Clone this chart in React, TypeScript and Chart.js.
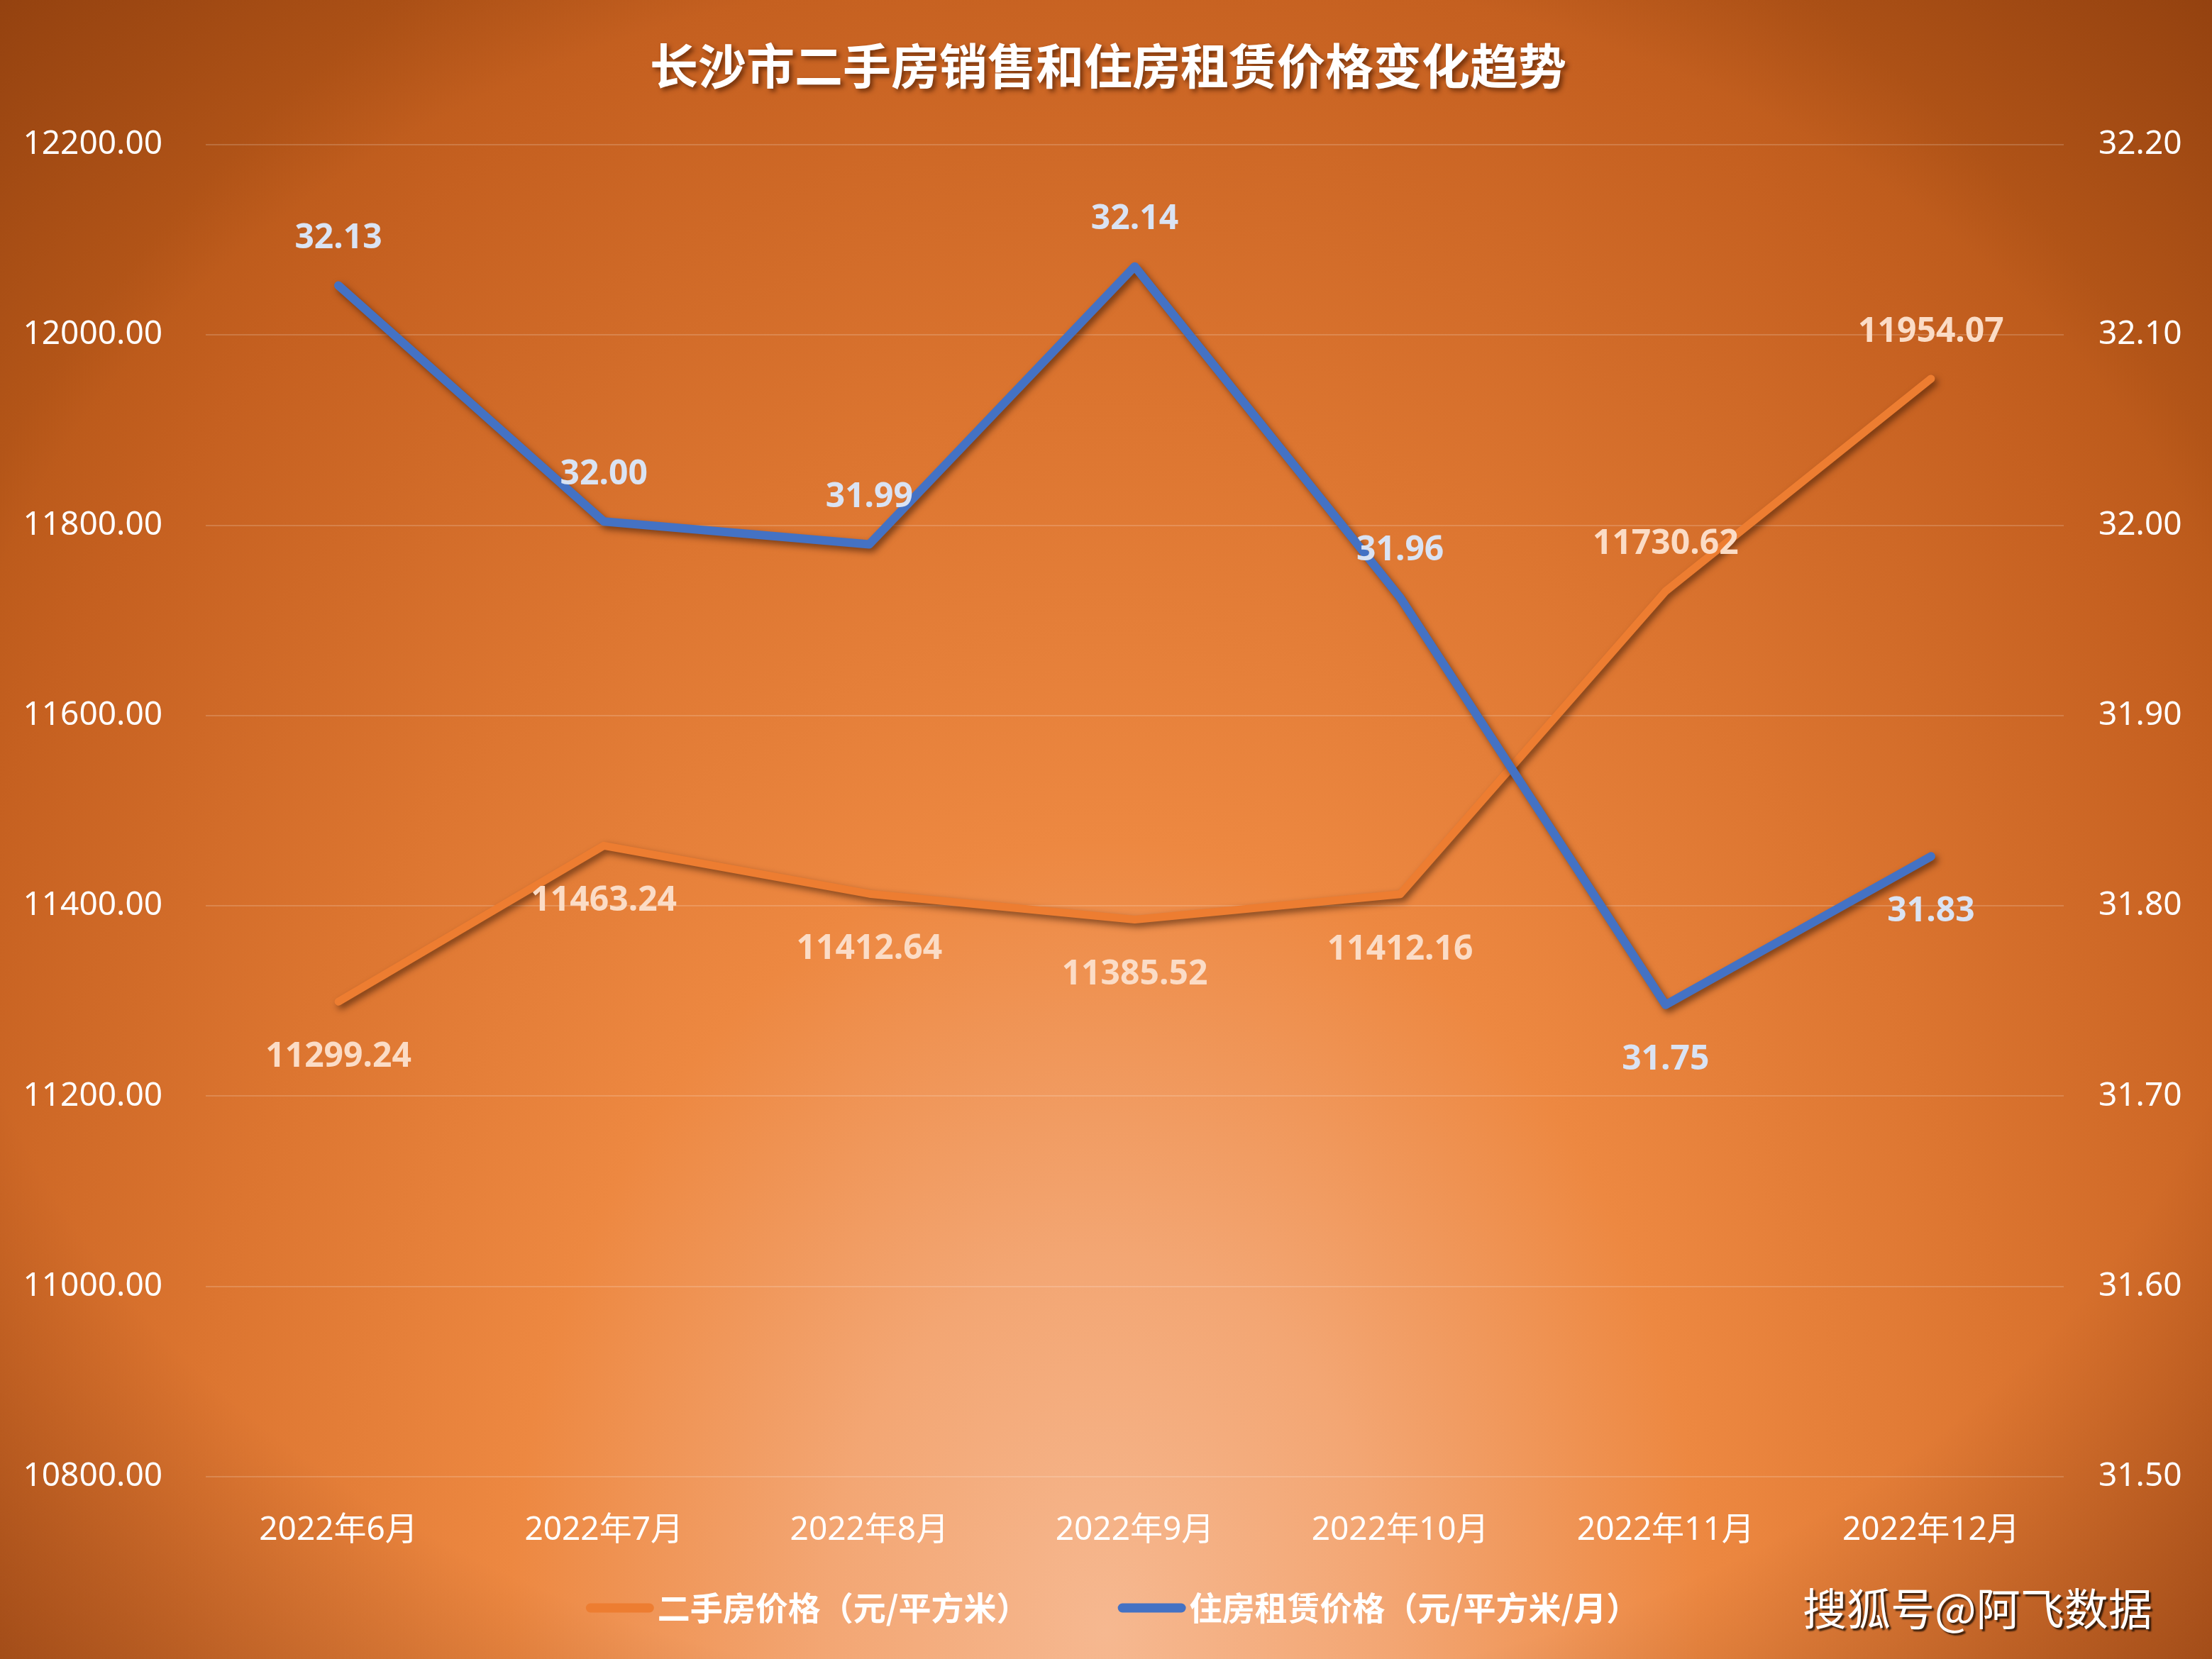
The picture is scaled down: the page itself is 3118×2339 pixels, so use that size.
import React, { useEffect, useRef } from 'react';
import { Chart, registerables } from 'chart.js';

Chart.register(...registerables);

const W = 3118;
const H = 2339;

// ---- data ----
const categories = ['2022年6月', '2022年7月', '2022年8月', '2022年9月', '2022年10月', '2022年11月', '2022年12月'];
const salePrice = [11299.24, 11463.24, 11412.64, 11385.52, 11412.16, 11730.62, 11954.07];
const rentPrice = [32.126, 32.002, 31.99, 32.136, 31.962, 31.748, 31.826];
const saleLabelSide = ['below', 'below', 'below', 'below', 'below', 'above', 'above'];
const rentLabelSide = ['above', 'above', 'above', 'above', 'above', 'below', 'below'];
const leftAxis = { min: 10800, max: 12200, step: 200 };
const rightAxis = { min: 31.5, max: 32.2, step: 0.1 };
const seriesNames = ['二手房价格（元/平方米）', '住房租赁价格（元/平方米/月）'];
const titleText = '长沙市二手房销售和住房租赁价格变化趋势';
const watermarkText = '搜狐号@阿飞数据';

// ---- style ----
const SALE_COLOR = '#ED7D31';
const RENT_COLOR = '#4472C4';
const SALE_LABEL = '#fbdcc6';
const RENT_LABEL = '#dae3f3';
const LATIN = '"Noto Sans", "Noto Sans CJK SC", sans-serif';
const CJK = '"Noto Sans CJK SC", "Noto Sans", sans-serif';

const backgroundPlugin = {
  id: 'bg',
  beforeDraw(chart: any) {
    const ctx = chart.ctx;
    // main radial gradient from bottom centre
    ctx.save();
    const cx = 1559;
    const cy = 2300;
    const rx = 2000;
    const sy = 2650 / rx;
    ctx.translate(cx, cy);
    ctx.scale(1, sy);
    const g = ctx.createRadialGradient(0, 0, 0, 0, 0, rx);
    g.addColorStop(0, '#f6b890');
    g.addColorStop(0.2, '#f3a673');
    g.addColorStop(0.42, '#ed8841');
    g.addColorStop(0.65, '#dc7530');
    g.addColorStop(0.9, '#c56020');
    g.addColorStop(1, '#b85819');
    ctx.fillStyle = g;
    ctx.fillRect(-cx - 5, -cy / sy - 5, W + 10, H / sy + 10);
    ctx.restore();

    // corner vignette
    ctx.save();
    const vx = W / 2;
    const vy = H / 2;
    const vr = vx * 1.414;
    const vs = (vy * 1.414) / vr;
    ctx.translate(vx, vy);
    ctx.scale(1, vs);
    const v = ctx.createRadialGradient(0, 0, 0, 0, 0, vr);
    v.addColorStop(0, 'rgba(90,30,0,0)');
    v.addColorStop(0.74, 'rgba(90,30,0,0)');
    v.addColorStop(1, 'rgba(90,30,0,0.38)');
    ctx.fillStyle = v;
    ctx.fillRect(-vx - 5, -vy / vs - 5, W + 10, H / vs + 10);
    ctx.restore();
  },
};

const shadowPlugin = {
  id: 'lineShadow',
  beforeDatasetDraw(chart: any) {
    const ctx = chart.ctx;
    ctx.save();
    ctx.shadowColor = 'rgba(40,15,0,0.55)';
    ctx.shadowBlur = 10;
    ctx.shadowOffsetX = 4;
    ctx.shadowOffsetY = 5;
  },
  afterDatasetDraw(chart: any) {
    chart.ctx.restore();
  },
};

const labelsPlugin = {
  id: 'valueLabels',
  afterDatasetsDraw(chart: any) {
    const ctx = chart.ctx;
    ctx.save();
    ctx.font = `700 48px ${LATIN}`;
    ctx.textAlign = 'center';
    ctx.textBaseline = 'middle';
    chart.data.datasets.forEach((ds: any, i: number) => {
      const meta = chart.getDatasetMeta(i);
      const sides = i === 0 ? saleLabelSide : rentLabelSide;
      ctx.fillStyle = i === 0 ? SALE_LABEL : RENT_LABEL;
      meta.data.forEach((pt: any, j: number) => {
        const dy = sides[j] === 'above' ? -66 : 78;
        ctx.fillText(Number(ds.data[j]).toFixed(2), pt.x, pt.y + dy);
      });
    });
    ctx.restore();
  },
};

const decorPlugin = {
  id: 'decor',
  afterDraw(chart: any) {
    const ctx = chart.ctx;
    // title
    ctx.save();
    ctx.font = `700 68px ${CJK}`;
    ctx.textAlign = 'center';
    ctx.textBaseline = 'middle';
    ctx.shadowColor = 'rgba(70,25,0,0.65)';
    ctx.shadowBlur = 6;
    ctx.shadowOffsetX = 4;
    ctx.shadowOffsetY = 4;
    ctx.fillStyle = '#ffffff';
    ctx.fillText(titleText, 1562, 93);
    ctx.restore();

    // legend
    ctx.save();
    ctx.font = `700 46px ${CJK}`;
    ctx.textBaseline = 'middle';
    const sw = 96;
    const gap = 5;
    const itemGap = 125;
    const t1 = ctx.measureText(seriesNames[0]).width;
    const t2 = ctx.measureText(seriesNames[1]).width;
    const total = sw + gap + t1 + itemGap + sw + gap + t2;
    let x = 1568 - total / 2;
    const ly = 2267;
    const drawItem = (color: string, text: string, tw: number) => {
      ctx.strokeStyle = color;
      ctx.lineWidth = 13;
      ctx.lineCap = 'round';
      ctx.beginPath();
      ctx.moveTo(x + 6.5, ly);
      ctx.lineTo(x + sw - 6.5, ly);
      ctx.stroke();
      ctx.fillStyle = '#ffffff';
      ctx.textAlign = 'left';
      ctx.fillText(text, x + sw + gap, ly);
      x += sw + gap + tw + itemGap;
    };
    drawItem(SALE_COLOR, seriesNames[0], t1);
    drawItem(RENT_COLOR, seriesNames[1], t2);
    ctx.restore();

    // watermark
    ctx.save();
    ctx.font = `400 62px ${CJK}`;
    ctx.textAlign = 'left';
    ctx.textBaseline = 'middle';
    ctx.shadowColor = 'rgba(0,0,0,0.7)';
    ctx.shadowBlur = 2;
    ctx.shadowOffsetX = 3;
    ctx.shadowOffsetY = 3;
    ctx.fillStyle = '#ffffff';
    ctx.fillText(watermarkText, 2541, 2268);
    ctx.restore();
  },
};

export default function App() {
  const canvasRef = useRef<HTMLCanvasElement | null>(null);

  useEffect(() => {
    document.body.style.margin = '0';
    const canvas = canvasRef.current;
    if (!canvas) return;
    Chart.defaults.font.family = LATIN;

    const chart = new Chart(canvas, {
      type: 'line',
      data: {
        labels: categories,
        datasets: [
          {
            label: seriesNames[0],
            data: salePrice,
            yAxisID: 'y',
            borderColor: SALE_COLOR,
            backgroundColor: SALE_COLOR,
            borderWidth: 11,
            borderCapStyle: 'round',
            borderJoinStyle: 'round',
            pointRadius: 0,
            tension: 0,
            order: 1,
          },
          {
            label: seriesNames[1],
            data: rentPrice,
            yAxisID: 'y1',
            borderColor: RENT_COLOR,
            backgroundColor: RENT_COLOR,
            borderWidth: 12,
            borderCapStyle: 'round',
            borderJoinStyle: 'round',
            pointRadius: 0,
            tension: 0,
            order: 0,
          },
        ],
      },
      options: {
        responsive: false,
        animation: false,
        devicePixelRatio: 1,
        layout: { padding: { top: 204, left: 0, right: 0, bottom: 0 } },
        plugins: {
          legend: { display: false },
          title: { display: false },
          tooltip: { enabled: false },
        },
        scales: {
          x: {
            type: 'category',
            offset: true,
            grid: { display: false, drawTicks: false },
            border: { display: false },
            ticks: {
              color: '#ffffff',
              font: { size: 46, family: LATIN },
              padding: 48,
              maxRotation: 0,
              autoSkip: false,
            },
            afterFit: (s: any) => {
              s.height = H - 2082;
            },
          },
          y: {
            type: 'linear',
            position: 'left',
            min: leftAxis.min,
            max: leftAxis.max,
            grid: { color: 'rgba(255,255,255,0.17)', lineWidth: 2, drawTicks: false },
            border: { display: false },
            ticks: {
              stepSize: leftAxis.step,
              color: '#ffffff',
              font: { size: 46, family: LATIN },
              padding: 61,
              callback: (v: any) => Number(v).toFixed(2),
            },
            afterFit: (s: any) => {
              s.width = 290;
            },
          },
          y1: {
            type: 'linear',
            position: 'right',
            min: rightAxis.min,
            max: rightAxis.max,
            grid: { display: false, drawTicks: false },
            border: { display: false },
            ticks: {
              stepSize: rightAxis.step,
              color: '#ffffff',
              font: { size: 46, family: LATIN },
              padding: 49,
              callback: (v: any) => Number(v).toFixed(2),
            },
            afterFit: (s: any) => {
              s.width = W - 2909;
            },
          },
        },
      } as any,
      plugins: [backgroundPlugin, shadowPlugin, labelsPlugin, decorPlugin],
    });

    let alive = true;
    if ((document as any).fonts && (document as any).fonts.ready) {
      (document as any).fonts.ready.then(() => {
        if (alive) chart.update();
      });
    }

    return () => {
      alive = false;
      chart.destroy();
    };
  }, []);

  return (
    <div style={{ position: 'absolute', left: 0, top: 0, width: W, height: H }}>
      <canvas ref={canvasRef} width={W} height={H} style={{ display: 'block', width: W, height: H }} />
    </div>
  );
}
